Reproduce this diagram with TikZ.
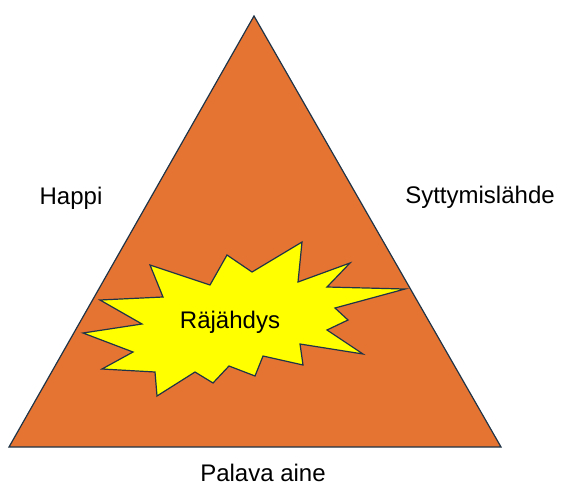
\documentclass[tikz,border=0pt]{standalone}
\usepackage{fontspec}
\setmainfont{Liberation Sans}
\definecolor{fireorange}{HTML}{E57332}
\definecolor{edgeblue}{HTML}{1F3447}
\definecolor{boomyellow}{HTML}{FFFF00}
\tikzset{
  lbl/.style={font=\fontsize{24}{28}\selectfont, text=black, inner sep=0pt},
  tri/.style={fill=fireorange, draw=edgeblue, line width=1.2pt, line join=miter},
  boom/.style={fill=boomyellow, draw=edgeblue, line width=1.2pt, line join=miter}
}
\begin{document}
\begin{tikzpicture}[x=1pt,y=-1pt]
\useasboundingbox (0,0) rectangle (561,487);
% fire triangle
\draw[tri] (254,16) -- (501,447) -- (9,447) -- cycle;
% explosion
\draw[boom] (150,265) -- (163,297) -- (100,300) -- (142,324) -- (83,333)
  -- (133,352) -- (102,369) -- (155,372) -- (157,396) -- (195,372)
  -- (213,383) -- (229,366) -- (255,376) -- (263,356) -- (303,365)
  -- (300,344) -- (363,354) -- (327,330) -- (348,320) -- (335,308)
  -- (405,289) -- (327,287) -- (350,263) -- (298,282) -- (302,242)
  -- (252,272) -- (227,255) -- (210,285) -- cycle;
\node[lbl] (boomtext) at (230,322) {Räjähdys};
\node[lbl] (happi) at (71,198) {Happi};
\node[lbl] (sytty) at (480,197) {Syttymislähde};
\node[lbl] (palava) at (263,473) {Palava aine};
\end{tikzpicture}
\end{document}
